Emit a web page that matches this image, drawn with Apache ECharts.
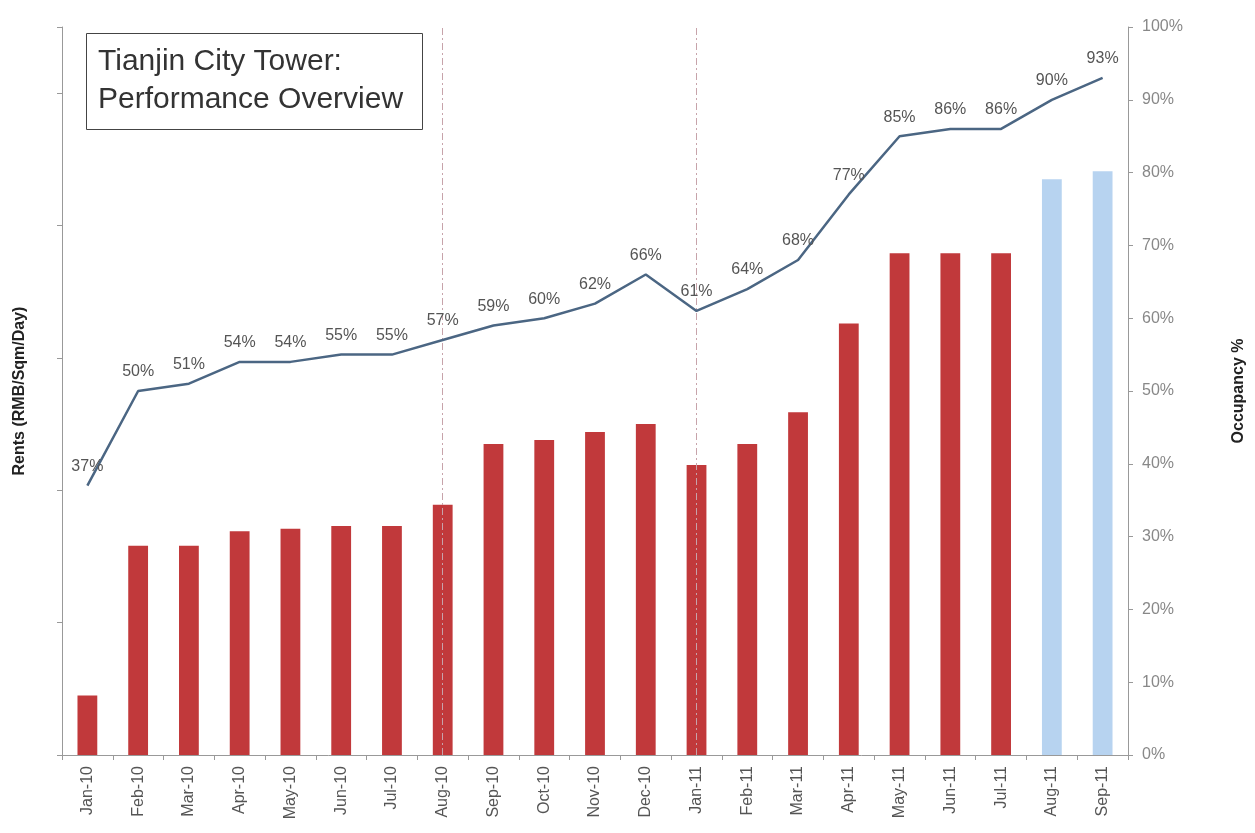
<!DOCTYPE html>
<html>
<head>
<meta charset="utf-8">
<script src="https://cdn.jsdelivr.net/npm/echarts@6/dist/echarts.min.js"></script>
<style>
  html, body { margin: 0; padding: 0; background: #fff; }
  #main { width: 1255px; height: 833px; }
</style>
</head>
<body>
<div id="main"></div>
<script>
// data
var months = ['Jan-10', 'Feb-10', 'Mar-10', 'Apr-10', 'May-10', 'Jun-10', 'Jul-10', 'Aug-10',
  'Sep-10', 'Oct-10', 'Nov-10', 'Dec-10', 'Jan-11', 'Feb-11', 'Mar-11', 'Apr-11',
  'May-11', 'Jun-11', 'Jul-11', 'Aug-11', 'Sep-11'];
// rents (RMB/Sqm/Day), left axis has no labels so these are in tick units
var rents = [0.45, 1.58, 1.58, 1.69, 1.71, 1.73, 1.73, 1.89, 2.35, 2.38, 2.44, 2.50,
  2.19, 2.35, 2.59, 3.26, 3.79, 3.79, 3.79, 4.35, 4.41];
// months that are forecasts (light blue bars)
var forecast = ['Aug-11', 'Sep-11'];
// occupancy %
var occupancy = [37, 50, 51, 54, 54, 55, 55, 57, 59, 60, 62, 66, 61, 64, 68, 77, 85, 86, 86, 90, 93];
var markMonths = ['Aug-10', 'Jan-11'];

var chart = echarts.init(document.getElementById('main'));

var barData = rents.map(function (v, i) {
  var isF = forecast.indexOf(months[i]) >= 0;
  return { value: v, itemStyle: { color: isF ? '#b7d3f0' : '#c1393b' } };
});

chart.setOption({
  animation: false,
  textStyle: { fontFamily: 'Liberation Sans, Arial, sans-serif' },
  title: {
    text: 'Tianjin City Tower:\nPerformance Overview',
    left: 86,
    top: 33,
    padding: [10, 20, 11, 12],
    borderColor: '#444',
    borderWidth: 1,
    textStyle: { fontSize: 30, fontWeight: 'normal', color: '#333', lineHeight: 38 }
  },
  grid: { left: 62, right: 125, top: 27, bottom: 78 },
  xAxis: {
    type: 'category',
    data: months,
    axisLine: { lineStyle: { color: '#999' } },
    axisTick: { show: true, length: 5, lineStyle: { color: '#999' } },
    axisLabel: { rotate: 90, color: '#555', fontSize: 16, margin: 11 }
  },
  yAxis: [
    {
      type: 'value',
      min: 0,
      max: 5.5,
      interval: 1,
      name: 'Rents (RMB/Sqm/Day)',
      nameLocation: 'middle',
      nameRotate: 90,
      nameGap: 34,
      nameTextStyle: { fontSize: 16, fontWeight: 'bold', color: '#222' },
      axisLine: { show: true, lineStyle: { color: '#999' } },
      axisTick: { show: true, length: 5, lineStyle: { color: '#999' } },
      axisLabel: { show: false },
      splitLine: { show: false }
    },
    {
      type: 'value',
      min: 0,
      max: 100,
      interval: 10,
      position: 'right',
      name: 'Occupancy %',
      nameLocation: 'middle',
      nameRotate: 90,
      nameGap: 103,
      nameTextStyle: { fontSize: 16, fontWeight: 'bold', color: '#222' },
      axisLine: { show: true, lineStyle: { color: '#999' } },
      axisTick: { show: true, length: 5, lineStyle: { color: '#999' } },
      axisLabel: { formatter: '{value}%', color: '#888', fontSize: 16, margin: 14 },
      splitLine: { show: false }
    }
  ],
  series: [
    {
      name: 'Rents',
      type: 'bar',
      yAxisIndex: 0,
      barWidth: '39%',
      data: barData,
      markLine: {
        silent: true,
        symbol: 'none',
        label: { show: false },
        lineStyle: { color: '#c7a3aa', type: [7, 3, 2, 3], width: 1 },
        data: markMonths.map(function (m) { return { xAxis: m }; })
      }
    },
    {
      name: 'Occupancy',
      type: 'line',
      yAxisIndex: 1,
      data: occupancy,
      symbol: 'circle',
      symbolSize: 2,
      showAllSymbol: true,
      itemStyle: { color: 'rgba(0,0,0,0)', borderWidth: 0 },
      lineStyle: { color: '#4b6683', width: 2.5 },
      label: {
        show: true,
        position: 'top',
        distance: 10,
        formatter: '{c}%',
        color: '#555',
        fontSize: 16
      },
      z: 5
    }
  ]
});
</script>
</body>
</html>
